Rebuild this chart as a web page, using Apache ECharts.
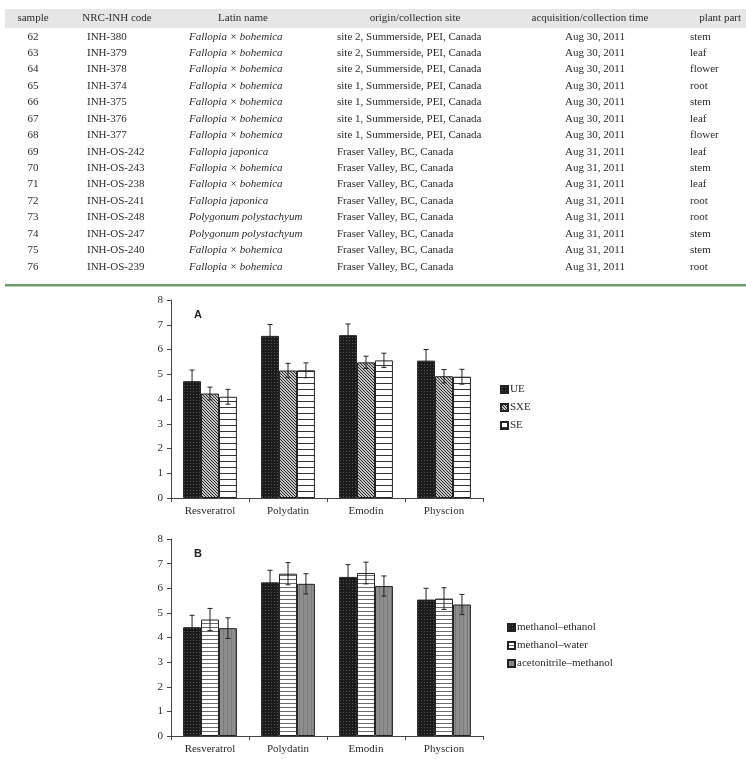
<!DOCTYPE html>
<html>
<head>
<meta charset="utf-8">
<script src="https://cdn.jsdelivr.net/npm/echarts@6.0.0/dist/echarts.min.js"></script>
<style>
html,body{margin:0;padding:0;background:#fff;}
#chart{width:746px;height:759px;}
</style>
</head>
<body>
<div id="chart"></div>
<script>
// ---------- table data ----------
const tableHeaders = ['sample','NRC-INH code','Latin name','origin/collection site','acquisition/collection time','plant part'];
const samples = ['62','63','64','65','66','67','68','69','70','71','72','73','74','75','76'];
const codes = ['INH-380','INH-379','INH-378','INH-374','INH-375','INH-376','INH-377','INH-OS-242','INH-OS-243','INH-OS-238','INH-OS-241','INH-OS-248','INH-OS-247','INH-OS-240','INH-OS-239'];
const latinNames = ['Fallopia × bohemica','Fallopia × bohemica','Fallopia × bohemica','Fallopia × bohemica','Fallopia × bohemica','Fallopia × bohemica','Fallopia × bohemica','Fallopia japonica','Fallopia × bohemica','Fallopia × bohemica','Fallopia japonica','Polygonum polystachyum','Polygonum polystachyum','Fallopia × bohemica','Fallopia × bohemica'];
const sites = ['site 2, Summerside, PEI, Canada','site 2, Summerside, PEI, Canada','site 2, Summerside, PEI, Canada','site 1, Summerside, PEI, Canada','site 1, Summerside, PEI, Canada','site 1, Summerside, PEI, Canada','site 1, Summerside, PEI, Canada','Fraser Valley, BC, Canada','Fraser Valley, BC, Canada','Fraser Valley, BC, Canada','Fraser Valley, BC, Canada','Fraser Valley, BC, Canada','Fraser Valley, BC, Canada','Fraser Valley, BC, Canada','Fraser Valley, BC, Canada'];
const times = ['Aug 30, 2011','Aug 30, 2011','Aug 30, 2011','Aug 30, 2011','Aug 30, 2011','Aug 30, 2011','Aug 30, 2011','Aug 31, 2011','Aug 31, 2011','Aug 31, 2011','Aug 31, 2011','Aug 31, 2011','Aug 31, 2011','Aug 31, 2011','Aug 31, 2011'];
const parts = ['stem','leaf','flower','root','stem','leaf','flower','leaf','stem','leaf','root','root','stem','stem','root'];

// ---------- chart data ----------
const categories = ['Resveratrol','Polydatin','Emodin','Physcion'];
const yTicks = [0,1,2,3,4,5,6,7,8];
// Panel A
const namesA = ['UE','SXE','SE'];
const UE  = [4.72, 6.55, 6.58, 5.55];
const UE_err  = [0.45, 0.46, 0.45, 0.45];
const SXE = [4.22, 5.15, 5.48, 4.92];
const SXE_err = [0.26, 0.29, 0.25, 0.27];
const SE  = [4.09, 5.16, 5.56, 4.90];
const SE_err  = [0.30, 0.30, 0.29, 0.30];
// Panel B
const namesB = ['methanol–ethanol','methanol–water','acetonitrile–methanol'];
const ME  = [4.42, 6.24, 6.46, 5.54];
const ME_err  = [0.48, 0.49, 0.50, 0.46];
const MW  = [4.73, 6.59, 6.62, 5.58];
const MW_err  = [0.45, 0.45, 0.44, 0.44];
const AM  = [4.38, 6.18, 6.09, 5.34];
const AM_err  = [0.42, 0.41, 0.41, 0.41];

// ---------- patterns ----------
function pattern(w, h, draw) {
  const c = document.createElement('canvas');
  c.width = w; c.height = h;
  const ctx = c.getContext('2d');
  draw(ctx, w, h);
  return { image: c, repeat: 'repeat' };
}
const patDark = pattern(3, 3, (ctx) => {
  ctx.fillStyle = '#1b1b1b'; ctx.fillRect(0, 0, 3, 3);
  ctx.fillStyle = '#555'; ctx.fillRect(1, 1, 1, 1);
});
const patDiag = pattern(3, 3, (ctx) => {
  ctx.fillStyle = '#c4c4c4'; ctx.fillRect(0, 0, 3, 3);
  ctx.fillStyle = '#2a2a2a';
  for (let i = 0; i < 3; i++) ctx.fillRect(i, i, 1, 1);
});
const patHorizA = pattern(4, 6, (ctx) => {
  ctx.fillStyle = '#ffffff'; ctx.fillRect(0, 0, 4, 6);
  ctx.fillStyle = '#333'; ctx.fillRect(0, 5, 4, 1);
});
const patHorizB = pattern(4, 4, (ctx) => {
  ctx.fillStyle = '#ffffff'; ctx.fillRect(0, 0, 4, 4);
  ctx.fillStyle = '#6a6a6a'; ctx.fillRect(0, 3, 4, 1);
});
const patGray = pattern(4, 4, (ctx) => {
  ctx.fillStyle = '#8e8e8e'; ctx.fillRect(0, 0, 4, 4);
  ctx.fillStyle = '#7a7a7a'; ctx.fillRect(3, 0, 1, 4);
});

const serif = '"Liberation Serif", "DejaVu Serif", serif';
const textColor = '#2a2a2a';
const CAT_GAP = 0.31;

function errSeries(values, errs, k, axisIdx) {
  return {
    type: 'custom',
    xAxisIndex: axisIdx, yAxisIndex: axisIdx,
    z: 10, silent: true,
    data: values.map((v, i) => [i, v, errs[i]]),
    renderItem: function (params, api) {
      const i = api.value(0), v = api.value(1), e = api.value(2);
      const c = api.coord([i, v]);
      const top = api.coord([i, v + e]);
      const bot = api.coord([i, v - e]);
      const bw = api.size([1, 0])[0];
      const barW = bw * (1 - CAT_GAP) / 3;
      const x = c[0] + (k - 1) * barW;
      const cap = 2.5;
      const st = { stroke: '#222', lineWidth: 1 };
      return {
        type: 'group',
        children: [
          { type: 'line', shape: { x1: x, y1: top[1], x2: x, y2: bot[1] }, style: st },
          { type: 'line', shape: { x1: x - cap, y1: top[1], x2: x + cap, y2: top[1] }, style: st },
          { type: 'line', shape: { x1: x - cap, y1: bot[1], x2: x + cap, y2: bot[1] }, style: st }
        ]
      };
    }
  };
}

function barSeries(name, values, color, axisIdx) {
  return {
    name: name, type: 'bar',
    xAxisIndex: axisIdx, yAxisIndex: axisIdx,
    data: values,
    barGap: '0%', barCategoryGap: (CAT_GAP * 100) + '%',
    itemStyle: { color: color, borderColor: '#222', borderWidth: 1 },
    emphasis: { disabled: true },
    silent: true
  };
}

// ---------- table graphics ----------
const rowY0 = 36.7, rowStep = 16.43;
const tableEls = [];
tableEls.push({ type: 'rect', shape: { x: 5, y: 9, width: 741, height: 19 }, style: { fill: '#e6e6e6' }, z: 0 });
tableEls.push({ type: 'rect', shape: { x: 5, y: 284, width: 741, height: 2.5 }, style: { fill: '#6e9b6e' }, z: 0 });
const headerPos = [
  { x: 33, align: 'center' }, { x: 117, align: 'center' }, { x: 243, align: 'center' },
  { x: 415, align: 'center' }, { x: 590, align: 'center' }, { x: 741, align: 'right' }
];
tableHeaders.forEach((h, j) => {
  tableEls.push({ type: 'text', z: 1, style: { text: h, x: headerPos[j].x, y: 18.5, align: headerPos[j].align, verticalAlign: 'middle', font: '11px ' + serif, fill: textColor } });
});
const cols = [
  { arr: samples, x: 33, align: 'center', italic: false },
  { arr: codes, x: 87, align: 'left', italic: false },
  { arr: latinNames, x: 189, align: 'left', italic: true },
  { arr: sites, x: 337, align: 'left', italic: false },
  { arr: times, x: 595, align: 'center', italic: false },
  { arr: parts, x: 690, align: 'left', italic: false }
];
cols.forEach(col => {
  col.arr.forEach((t, i) => {
    tableEls.push({ type: 'text', z: 1, style: { text: t, x: col.x, y: rowY0 + i * rowStep, align: col.align, verticalAlign: 'middle', font: (col.italic ? 'italic ' : '') + '11px ' + serif, fill: textColor } });
  });
});
tableEls.push({ type: 'text', z: 1, style: { text: 'A', x: 194, y: 315, verticalAlign: 'middle', font: 'bold 11px "Liberation Sans", Arial, sans-serif', fill: '#222' } });
tableEls.push({ type: 'text', z: 1, style: { text: 'B', x: 194, y: 554, verticalAlign: 'middle', font: 'bold 11px "Liberation Sans", Arial, sans-serif', fill: '#222' } });

function xAxisCfg(idx) {
  return {
    type: 'category', gridIndex: idx, data: categories,
    axisLine: { show: true, lineStyle: { color: '#444', width: 1 } },
    axisTick: { show: true, alignWithLabel: false, length: 4, lineStyle: { color: '#444' } },
    axisLabel: { fontFamily: serif, fontSize: 11, color: textColor, margin: 8 },
    splitLine: { show: false }
  };
}
function yAxisCfg(idx) {
  return {
    type: 'value', gridIndex: idx, min: yTicks[0], max: yTicks[yTicks.length - 1], interval: 1,
    axisLine: { show: true, lineStyle: { color: '#444', width: 1 } },
    axisTick: { show: true, length: 4, lineStyle: { color: '#444' } },
    axisLabel: { fontFamily: serif, fontSize: 11, color: textColor, margin: 8 },
    splitLine: { show: false }
  };
}

const chart = echarts.init(document.getElementById('chart'), null, { renderer: 'canvas' });
chart.setOption({
  animation: false,
  backgroundColor: '#ffffff',
  grid: [
    { left: 171, top: 300, width: 312, height: 198 },
    { left: 171, top: 539, width: 312, height: 197 }
  ],
  xAxis: [xAxisCfg(0), xAxisCfg(1)],
  yAxis: [yAxisCfg(0), yAxisCfg(1)],
  legend: [
    {
      data: namesA, orient: 'vertical', left: 495, top: 379,
      icon: 'rect', itemWidth: 7, itemHeight: 7, itemGap: 7,
      textStyle: { fontFamily: serif, fontSize: 11, color: textColor, padding: [0, 0, 0, -3] },
      selectedMode: false
    },
    {
      data: namesB, orient: 'vertical', left: 502, top: 617,
      icon: 'rect', itemWidth: 7, itemHeight: 7, itemGap: 7,
      textStyle: { fontFamily: serif, fontSize: 11, color: textColor, padding: [0, 0, 0, -3] },
      selectedMode: false
    }
  ],
  graphic: tableEls,
  series: [
    barSeries(namesA[0], UE, patDark, 0),
    barSeries(namesA[1], SXE, patDiag, 0),
    barSeries(namesA[2], SE, patHorizA, 0),
    errSeries(UE, UE_err, 0, 0),
    errSeries(SXE, SXE_err, 1, 0),
    errSeries(SE, SE_err, 2, 0),
    barSeries(namesB[0], ME, patDark, 1),
    barSeries(namesB[1], MW, patHorizB, 1),
    barSeries(namesB[2], AM, patGray, 1),
    errSeries(ME, ME_err, 0, 1),
    errSeries(MW, MW_err, 1, 1),
    errSeries(AM, AM_err, 2, 1)
  ]
});
</script>
</body>
</html>
